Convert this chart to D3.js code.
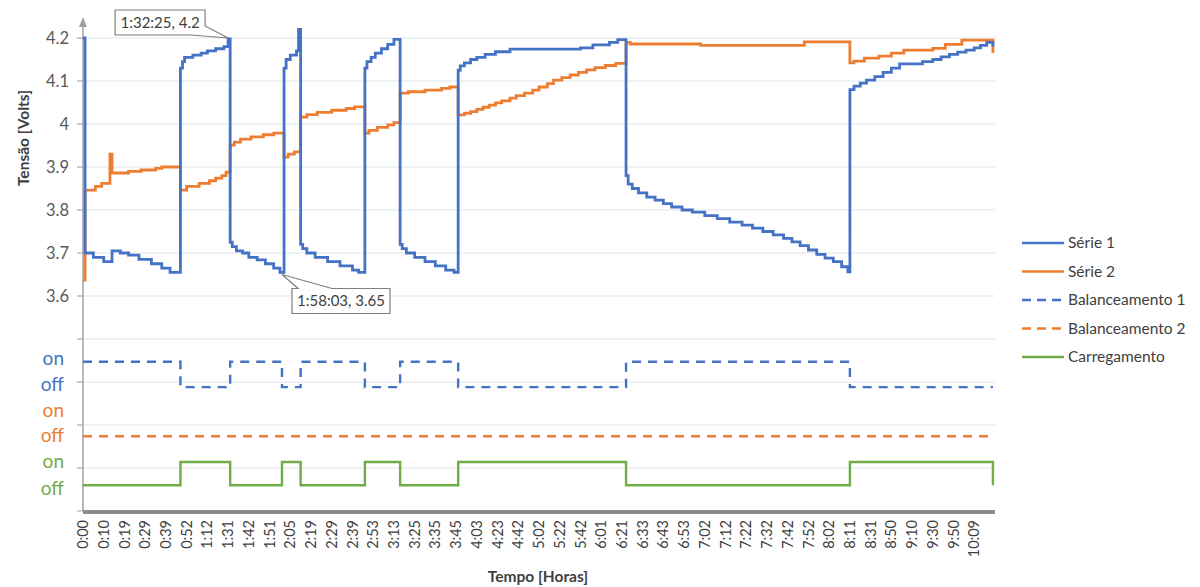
<!DOCTYPE html>
<html>
<head>
<meta charset="utf-8">
<script src="https://cdn.jsdelivr.net/npm/d3@7"></script>
<style>
  body { margin: 0; background: #fff; }
  svg { font-family: Lato, "Open Sans", sans-serif; }
</style>
</head>
<body>
<div id="chart"></div>
<script>
// tick labels of the category axis (one every 10 samples)
var timeLabels = ["0:00","0:10","0:19","0:29","0:39","0:52","1:12","1:31","1:42","1:51","2:05",
  "2:19","2:29","2:39","2:53","3:13","3:25","3:35","3:45","4:03","4:23","4:42","5:02","5:22",
  "5:42","6:01","6:21","6:33","6:43","6:53","7:02","7:12","7:22","7:32","7:42","7:52","8:02",
  "8:11","8:31","8:50","9:10","9:30","9:50","10:09"];

var yTicks = [3.6, 3.7, 3.8, 3.9, 4.0, 4.1, 4.2];

// [sample, volts]
var serie1 = [[0,4.20],[1,3.70],[5,3.69],[10,3.68],[14,3.705],[18,3.70],[22,3.695],[27,3.685],
  [33,3.675],[38,3.665],[42,3.655],[47,4.13],[48,4.145],[49,4.155],[53,4.16],[57,4.165],[60,4.17],
  [64,4.175],[68,4.18],[70,4.198],[71,3.725],[72,3.715],[74,3.705],[77,3.70],[80,3.69],[84,3.684],
  [88,3.675],[92,3.665],[95,3.655],[97,4.13],[98,4.15],[100,4.16],[103,4.17],[104,4.22],[105,3.72],
  [106,3.71],[108,3.70],[112,3.69],[118,3.68],[124,3.67],[130,3.66],[133,3.655],[136,4.13],
  [137,4.145],[139,4.155],[141,4.165],[144,4.175],[147,4.185],[150,4.197],[153,3.72],[154,3.71],
  [156,3.70],[160,3.69],[165,3.68],[170,3.67],[175,3.66],[179,3.655],[181,4.125],[182,4.135],
  [184,4.142],[187,4.15],[190,4.155],[194,4.162],[199,4.168],[206,4.174],[240,4.177],[246,4.184],
  [254,4.19],[258,4.196],[262,3.88],[263,3.86],[265,3.85],[268,3.84],[272,3.83],[276,3.823],
  [280,3.815],[284,3.807],[289,3.80],[294,3.795],[300,3.787],[306,3.78],[312,3.772],[318,3.765],
  [323,3.758],[328,3.75],[333,3.742],[338,3.734],[342,3.726],[346,3.717],[350,3.707],[354,3.697],
  [358,3.688],[362,3.68],[366,3.668],[369,3.656],[370,4.08],[372,4.088],[375,4.095],[378,4.102],
  [382,4.11],[386,4.12],[390,4.13],[394,4.14],[405,4.145],[410,4.15],[414,4.156],[418,4.162],
  [422,4.167],[426,4.172],[430,4.177],[433,4.183],[436,4.19],[439,4.18]];

var serie2 = [[0,3.637],[1,3.846],[6,3.855],[9,3.862],[13,3.93],[14,3.886],[22,3.89],[28,3.893],
  [35,3.897],[38,3.90],[47,3.846],[50,3.855],[56,3.862],[61,3.868],[64,3.874],[67,3.88],[69,3.888],
  [71,3.951],[73,3.958],[76,3.965],[81,3.97],[87,3.975],[92,3.979],[97,3.923],[99,3.93],[102,3.935],
  [105,4.016],[108,4.022],[113,4.027],[120,4.032],[127,4.036],[131,4.04],[136,3.979],[138,3.985],
  [142,3.992],[147,3.998],[150,4.003],[153,4.072],[157,4.075],[165,4.079],[173,4.083],[177,4.086],
  [181,4.021],[184,4.025],[187,4.029],[190,4.034],[193,4.039],[196,4.044],[199,4.049],[202,4.054],
  [206,4.06],[209,4.066],[213,4.072],[217,4.079],[220,4.086],[224,4.094],[227,4.102],[231,4.108],
  [235,4.114],[239,4.12],[243,4.126],[247,4.131],[252,4.136],[257,4.141],[262,4.19],[264,4.186],
  [298,4.183],[348,4.191],[370,4.142],[372,4.146],[377,4.153],[384,4.158],[390,4.165],[396,4.172],
  [410,4.176],[416,4.185],[424,4.195],[438,4.195],[439,4.165]];

// [sample, state] 1 = on, 0 = off
var balanceamento1 = [[0,1],[47,0],[71,1],[96,0],[105,1],[136,0],[153,1],[181,0],[262,1],[370,0],[439,0]];
var balanceamento2 = [[0,0],[439,0]];
var carregamento = [[0,0],[47,1],[71,0],[96,1],[105,0],[136,1],[153,0],[181,1],[262,0],[370,1],[439,0]];

var annotations = [
  { sample: 70, value: 4.2, label: "1:32:25, 4.2" },
  { sample: 96, value: 3.65, label: "1:58:03, 3.65" }
];

var width = 1200, height = 587;
var blue = "#4472C4", orange = "#ED7D31", green = "#70AD47";

var svg = d3.select("#chart").append("svg")
  .attr("width", width)
  .attr("height", height);

var x = d3.scaleLinear().domain([0, 440]).range([83, 995]);
var y = d3.scaleLinear().domain([3.1, 4.2]).range([511, 38]);

// gridlines (whole panel, including the on/off area)
var grid = d3.range(31, 43).map(function(d) { return d / 10; });
svg.append("g").selectAll("line")
  .data(grid).enter().append("line")
    .attr("x1", 77).attr("x2", x(440))
    .attr("y1", function(d) { return y(d); })
    .attr("y2", function(d) { return y(d); })
    .style("stroke", function(d, i) { return i === 0 ? "none" : "#dde3ef"; })
    .style("stroke-width", 1.2);
svg.append("g").selectAll("line")
  .data(grid).enter().append("line")
    .attr("x1", 77).attr("x2", 83)
    .attr("y1", function(d) { return y(d); })
    .attr("y2", function(d) { return y(d); })
    .style("stroke", "#a6a6a6");

// y axis with arrow
svg.append("line")
  .attr("x1", x(0)).attr("x2", x(0))
  .attr("y1", 26).attr("y2", y(3.1))
  .style("stroke", "#a0a0a0").style("stroke-width", 1.5);
svg.append("path")
  .attr("d", "M" + x(0) + ",17 L" + (x(0) - 4) + ",27 L" + (x(0) + 4) + ",27 Z")
  .style("fill", "#a0a0a0");

svg.append("g").selectAll("text")
  .data(yTicks).enter().append("text")
    .attr("x", 69)
    .attr("y", function(d) { return y(d); })
    .attr("dy", "0.35em")
    .attr("text-anchor", "end")
    .style("font-size", "16.5px")
    .style("fill", "#595959")
    .text(function(d) { return String(+d.toFixed(1)); });

// on / off labels
var stateLabels = [
  { t: "on", v: 3.455, c: blue }, { t: "off", v: 3.395, c: blue },
  { t: "on", v: 3.335, c: orange }, { t: "off", v: 3.275, c: orange },
  { t: "on", v: 3.215, c: green }, { t: "off", v: 3.153, c: green }
];
svg.append("g").selectAll("text")
  .data(stateLabels).enter().append("text")
    .attr("x", 64)
    .attr("y", function(d) { return y(d.v); })
    .attr("dy", "0.35em")
    .attr("text-anchor", "end")
    .style("font-size", "19px")
    .style("fill", function(d) { return d.c; })
    .text(function(d) { return d.t; });

// x axis
svg.append("line")
  .attr("x1", x(0)).attr("x2", x(440))
  .attr("y1", y(3.1) + 1).attr("y2", y(3.1) + 1)
  .style("stroke", "#8c8c8c").style("stroke-width", 4);

svg.append("g").selectAll("text")
  .data(timeLabels).enter().append("text")
    .attr("transform", function(d, i) {
      return "translate(" + x(i * 10) + "," + 520 + ") rotate(-90)";
    })
    .attr("dy", "0.35em")
    .attr("text-anchor", "end")
    .style("font-size", "14.5px")
    .style("fill", "#404040")
    .text(function(d) { return d; });

// axis titles
svg.append("text")
  .attr("transform", "translate(24,138) rotate(-90)")
  .attr("text-anchor", "middle")
  .attr("dy", "0.35em")
  .style("font-size", "15.5px").style("font-weight", "bold").style("fill", "#404040")
  .text("Tensão [Volts]");
svg.append("text")
  .attr("x", 538).attr("y", 577)
  .attr("text-anchor", "middle")
  .attr("dy", "0.35em")
  .style("font-size", "15.5px").style("font-weight", "bold").style("fill", "#404040")
  .text("Tempo [Horas]");

// series lines
var volt = d3.line()
  .x(function(d) { return x(d[0]); })
  .y(function(d) { return y(d[1]); })
  .curve(d3.curveStepAfter);

function stateLine(onV, offV) {
  return d3.line()
    .x(function(d) { return x(d[0]); })
    .y(function(d) { return y(d[1] ? onV : offV); })
    .curve(d3.curveStepAfter);
}

svg.append("path").datum(serie2)
  .attr("d", volt)
  .style("fill", "none").style("stroke", orange).style("stroke-width", 2.8);
svg.append("path").datum(serie1)
  .attr("d", volt)
  .style("fill", "none").style("stroke", blue).style("stroke-width", 2.8);

svg.append("path").datum(balanceamento1)
  .attr("d", stateLine(3.447, 3.388))
  .style("fill", "none").style("stroke", blue).style("stroke-width", 2.4)
  .style("stroke-dasharray", "9,7");
svg.append("path").datum(balanceamento2)
  .attr("d", stateLine(3.335, 3.274))
  .style("fill", "none").style("stroke", orange).style("stroke-width", 2.4)
  .style("stroke-dasharray", "9,7");
svg.append("path").datum(carregamento)
  .attr("d", stateLine(3.214, 3.16))
  .style("fill", "none").style("stroke", green).style("stroke-width", 2.4);

// callouts
annotations.forEach(function(a, i) {
  var px = x(a.sample), py = y(a.value);
  var g = svg.append("g");
  var bx, by, bw, bh = 25, d;
  if (i === 0) {
    bw = 90; bx = px - 113; by = py - 28;
    d = "M" + bx + "," + by + " h" + bw + " v" + (bh - 9) +
        " L" + px + "," + py + " L" + (bx + bw - 14) + "," + (by + bh) +
        " H" + bx + " Z";
  } else {
    bw = 98; bx = px + 10; by = py + 14;
    d = "M" + bx + "," + by + " H" + (bx + 6) + " L" + px + "," + py +
        " L" + (bx + 40) + "," + by + " H" + (bx + bw) + " v" + bh +
        " H" + bx + " Z";
  }
  g.append("path").attr("d", d)
    .style("fill", "#fff").style("stroke", "#7f7f7f").style("stroke-width", 1.2);
  g.append("text")
    .attr("x", bx + bw / 2).attr("y", by + bh / 2)
    .attr("dy", "0.35em").attr("text-anchor", "middle")
    .style("font-size", "15px").style("fill", "#404040")
    .text(a.label);
});

// legend
var legendItems = [
  { name: "Série 1", color: blue, dash: null },
  { name: "Série 2", color: orange, dash: null },
  { name: "Balanceamento 1", color: blue, dash: "9,6" },
  { name: "Balanceamento 2", color: orange, dash: "9,6" },
  { name: "Carregamento", color: green, dash: null }
];
var legend = svg.append("g").selectAll("g")
  .data(legendItems).enter().append("g")
    .attr("transform", function(d, i) { return "translate(1022," + (243 + i * 28.5) + ")"; });
legend.append("line")
  .attr("x1", 0).attr("x2", 42)
  .style("stroke", function(d) { return d.color; })
  .style("stroke-width", 2.3)
  .style("stroke-dasharray", function(d) { return d.dash; });
legend.append("text")
  .attr("x", 46).attr("dy", "0.35em")
  .style("font-size", "15.5px").style("fill", "#404040")
  .text(function(d) { return d.name; });
</script>
</body>
</html>
